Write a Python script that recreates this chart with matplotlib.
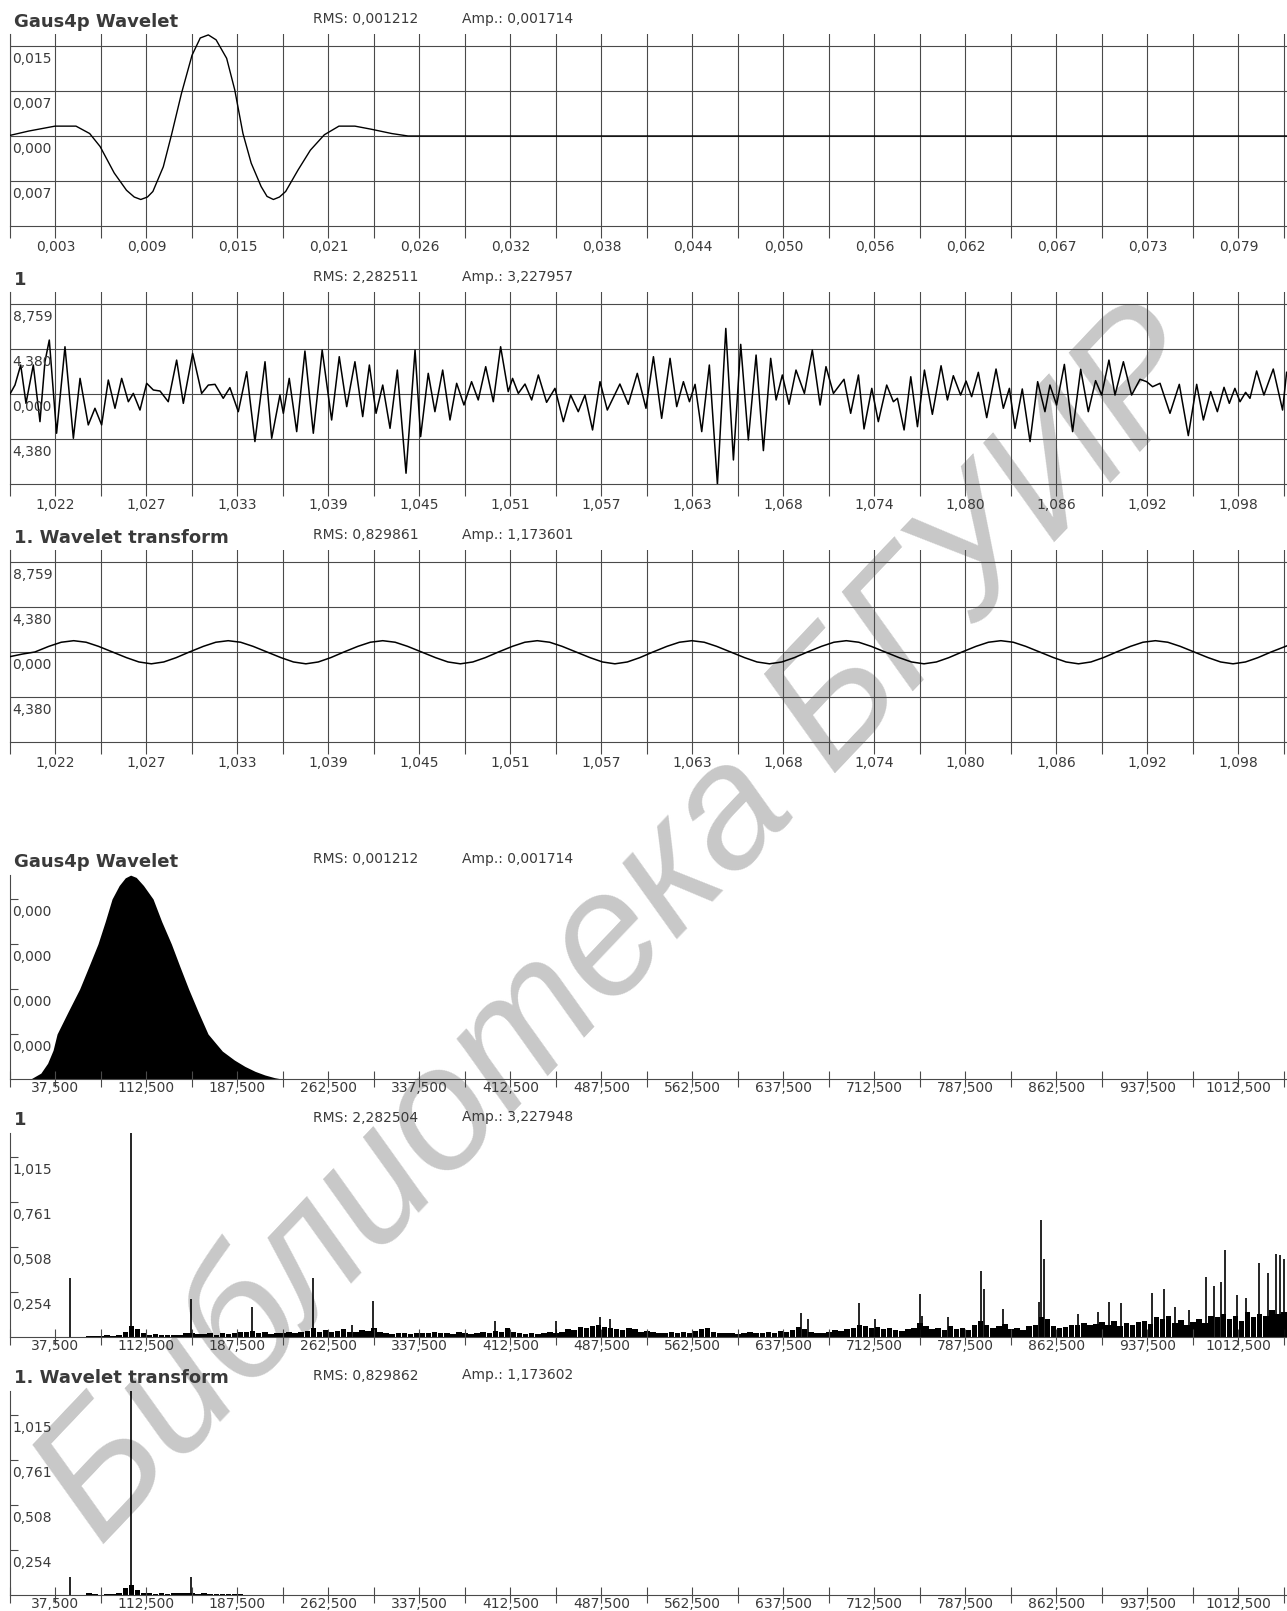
import numpy as np
import matplotlib
matplotlib.use('Agg')
import matplotlib.pyplot as plt

W, H = 1287, 1611
GRID = '#4a4a4a'
TXT = '#3a3a3a'
STEP_MS = 2.9297      # time per grid column, ms
STEP_HZ = 37.5        # frequency per grid column, Hz
NCOL = 28.066         # grid columns across the plot width

# ---------------- data ----------------
titles = ['Gaus4p Wavelet', '1', '1. Wavelet transform']
rms_time = ['RMS: 0,001212', 'RMS: 2,282511', 'RMS: 0,829861']
amp_time = ['Amp.: 0,001714', 'Amp.: 3,227957', 'Amp.: 1,173601']
rms_spec = ['RMS: 0,001212', 'RMS: 2,282504', 'RMS: 0,829862']
amp_spec = ['Amp.: 0,001714', 'Amp.: 3,227948', 'Amp.: 1,173602']

wavelet_xlabels = ['0,003', '0,009', '0,015', '0,021', '0,026', '0,032', '0,038',
                   '0,044', '0,050', '0,056', '0,062', '0,067', '0,073', '0,079']
signal_xlabels = ['1,022', '1,027', '1,033', '1,039', '1,045', '1,051', '1,057',
                  '1,063', '1,068', '1,074', '1,080', '1,086', '1,092', '1,098']
freq_xlabels = ['37,500', '112,500', '187,500', '262,500', '337,500', '412,500', '487,500',
                '562,500', '637,500', '712,500', '787,500', '862,500', '937,500', '1012,500']

wavelet_ylabels = ['0,015', '0,007', '0,000', '0,007']
signal_ylabels = ['8,759', '4,380', '0,000', '4,380']
wspec_ylabels = ['0,000', '0,000', '0,000', '0,000']
spec_ylabels = ['0,254', '0,508', '0,761', '1,015']

wavelet_cell = 0.0073
signal_cell = 4.3795
wspec_cell = 0.0001
spec_cell = 0.2538

# Gaus4p wavelet, time in ms
wavelet_points = [
    (0.0, 0.0001), (1.2, 0.0008), (2.9, 0.0016), (4.25, 0.0016), (5.13, 0.0004),
    (5.80, -0.0017), (6.71, -0.0060), (7.50, -0.0088), (8.0, -0.0099), (8.42, -0.0103),
    (8.85, -0.0099), (9.20, -0.0090), (9.87, -0.0050), (10.40, 0.0002), (11.04, 0.0069),
    (11.72, 0.0131), (12.25, 0.0159), (12.77, 0.0164), (13.27, 0.0156), (13.95, 0.0126),
    (14.47, 0.0075), (15.00, 0.0004), (15.53, -0.0044), (16.17, -0.0082), (16.55, -0.0098),
    (16.96, -0.0103), (17.35, -0.0099), (17.75, -0.0090), (18.55, -0.0055), (19.34, -0.0023),
    (20.24, 0.0002), (21.18, 0.0016), (22.21, 0.0016), (23.26, 0.0011), (24.58, 0.0004),
    (25.63, 0.0), (82.22, 0.0),
]

# signal "1", time in ms from window start
signal_points = [
    (0.0, 0.0), (0.32, 0.87), (0.69, 2.82), (1.03, -0.91), (1.50, 2.82), (1.93, -2.69),
    (2.25, 3.14), (2.53, 5.25), (3.00, -3.82), (3.54, 4.60), (4.08, -4.31), (4.51, 1.52),
    (5.04, -3.01), (5.47, -1.39), (5.90, -3.01), (6.33, 1.36), (6.76, -1.39), (7.19, 1.52),
    (7.62, -0.75), (7.94, 0.06), (8.37, -1.56), (8.80, 1.04), (9.23, 0.39), (9.66, 0.29),
    (10.19, -0.75), (10.73, 3.30), (11.16, -0.91), (11.76, 3.95), (12.34, 0.06), (12.77, 0.87),
    (13.20, 0.94), (13.73, -0.42), (14.16, 0.62), (14.70, -1.72), (15.24, 2.17), (15.77, -4.63),
    (16.42, 3.14), (16.85, -4.31), (17.38, -0.10), (17.60, -1.88), (17.98, 1.52), (18.46, -3.66),
    (18.99, 4.18), (19.53, -3.82), (20.10, 4.28), (20.71, -2.53), (21.20, 3.63), (21.68, -1.23),
    (22.21, 3.14), (22.71, -2.20), (23.14, 2.82), (23.57, -1.88), (24.00, 0.87), (24.47, -3.34),
    (24.94, 2.33), (25.50, -7.71), (26.08, 4.28), (26.44, -4.15), (26.93, 2.01), (27.36, -1.72),
    (27.86, 2.33), (28.33, -2.53), (28.76, 1.04), (29.23, -1.07), (29.72, 1.20), (30.15, -0.58),
    (30.63, 2.66), (31.12, -0.75), (31.59, 4.60), (32.08, 0.23), (32.36, 1.52), (32.73, 0.06),
    (33.16, 0.97), (33.59, -0.58), (34.02, 1.85), (34.55, -0.81), (35.09, 0.55), (35.63, -2.69),
    (36.10, -0.10), (36.59, -1.72), (37.02, -0.10), (37.51, -3.50), (37.99, 1.20), (38.46, -1.56),
    (39.27, 0.97), (39.81, -1.00), (40.39, 2.01), (40.95, -1.39), (41.43, 3.63), (41.96, -2.37),
    (42.50, 3.47), (42.93, -1.23), (43.36, 1.20), (43.75, -0.75), (44.11, 0.94), (44.54, -3.66),
    (45.03, 2.82), (45.55, -8.78), (46.09, 6.38), (46.58, -6.42), (47.05, 4.83), (47.54, -4.47),
    (48.04, 3.79), (48.51, -5.51), (48.98, 3.47), (49.33, -0.58), (49.73, 1.85), (50.16, -1.00),
    (50.61, 2.33), (51.15, 0.06), (51.66, 4.28), (52.16, -1.07), (52.54, 2.66), (53.02, 0.06),
    (53.70, 1.43), (54.13, -1.88), (54.63, 1.85), (54.99, -3.40), (55.49, 0.55), (55.91, -2.69),
    (56.45, 0.87), (56.88, -0.75), (57.14, -0.42), (57.57, -3.50), (58.00, 1.68), (58.43, -3.18),
    (58.88, 2.33), (59.39, -1.98), (59.95, 2.75), (60.36, -0.58), (60.74, 1.78), (61.21, -0.10),
    (61.56, 1.26), (61.92, -0.26), (62.35, 2.11), (62.89, -2.30), (63.49, 2.43), (63.96, -1.39),
    (64.35, 0.55), (64.71, -3.34), (65.18, 0.49), (65.68, -4.63), (66.17, 1.20), (66.64, -1.72),
    (66.96, 0.87), (67.39, -1.07), (67.89, 2.88), (68.42, -3.66), (68.94, 2.40), (69.43, -1.72),
    (69.90, 1.30), (70.29, -0.10), (70.76, 3.30), (71.15, -0.10), (71.69, 3.14), (72.22, -0.10),
    (72.76, 1.43), (73.19, 1.20), (73.57, 0.71), (74.05, 1.04), (74.69, -1.88), (75.29, 0.94),
    (75.87, -4.05), (76.41, 0.94), (76.84, -2.53), (77.31, 0.23), (77.74, -1.72), (78.17, 0.65),
    (78.51, -0.91), (78.87, 0.55), (79.20, -0.75), (79.56, 0.16), (79.84, -0.42), (80.27, 2.24),
    (80.74, -0.10), (81.34, 2.43), (81.94, -1.56), (82.20, 2.11),
]

# 1. Wavelet transform (time), ms
transform_points = [
    (0.0, -0.45), (0.8, -0.2), (1.6, 0.0), (2.5, 0.55), (3.3, 0.95), (4.1, 1.1), (4.9, 0.95),
    (5.7, 0.55), (6.6, 0.0), (7.5, -0.55), (8.3, -0.97), (9.1, -1.15), (9.9, -0.97),
    (10.7, -0.55), (11.55, 0.0),
    (12.45, 0.55), (13.25, 0.95), (14.05, 1.1), (14.85, 0.95), (15.65, 0.55), (16.55, 0.0),
    (17.45, -0.55), (18.25, -0.97), (19.05, -1.15), (19.85, -0.97), (20.65, -0.55), (21.5, 0.0),
    (22.4, 0.55), (23.2, 0.95), (24.0, 1.1), (24.8, 0.95), (25.6, 0.55), (26.5, 0.0),
    (27.4, -0.55), (28.2, -0.97), (29.0, -1.15), (29.8, -0.97), (30.6, -0.55), (31.45, 0.0),
    (32.35, 0.55), (33.15, 0.95), (33.95, 1.1), (34.75, 0.95), (35.55, 0.55), (36.45, 0.0),
    (37.35, -0.55), (38.15, -0.97), (38.95, -1.15), (39.75, -0.97), (40.55, -0.55), (41.4, 0.0),
    (42.3, 0.55), (43.1, 0.95), (43.9, 1.1), (44.7, 0.95), (45.5, 0.55), (46.4, 0.0),
    (47.3, -0.55), (48.1, -0.97), (48.9, -1.15), (49.7, -0.97), (50.5, -0.55), (51.35, 0.0),
    (52.25, 0.55), (53.05, 0.95), (53.85, 1.1), (54.65, 0.95), (55.45, 0.55), (56.35, 0.0),
    (57.25, -0.55), (58.05, -0.97), (58.85, -1.15), (59.65, -0.97), (60.45, -0.55), (61.3, 0.0),
    (62.2, 0.55), (63.0, 0.95), (63.8, 1.1), (64.6, 0.95), (65.4, 0.55), (66.3, 0.0),
    (67.2, -0.55), (68.0, -0.97), (68.8, -1.15), (69.6, -0.97), (70.4, -0.55), (71.25, 0.0),
    (72.15, 0.55), (72.95, 0.95), (73.75, 1.1), (74.55, 0.95), (75.35, 0.55), (76.25, 0.0),
    (77.15, -0.55), (77.95, -0.97), (78.75, -1.15), (79.55, -0.97), (80.35, -0.55), (81.2, 0.0),
    (82.22, 0.6),
]

# wavelet spectrum (Hz, amplitude in 1e-4)
wavelet_spec_points = [
    (17, 0.0), (25.4, 0.13), (31, 0.35), (35.5, 0.64), (38.8, 1.0), (48, 1.5), (57.4, 2.0),
    (65, 2.5), (72.5, 3.0), (78.5, 3.5), (84.1, 4.0), (90, 4.3), (95, 4.47), (99.4, 4.53),
    (104, 4.48), (110, 4.3), (117.9, 4.0), (125, 3.5), (133, 3.0), (140, 2.5), (147.2, 2.0),
    (155, 1.5), (163.2, 1.0), (170, 0.78), (175, 0.62), (185, 0.42), (193.6, 0.28),
    (202, 0.17), (210, 0.09), (218, 0.03), (224, 0.0),
]

# spectrum of signal "1": noise floor every 5 Hz from 55 Hz, plus narrow peaks
noise_start, noise_step = 55, 5
noise_amp = [
    0, 0, 0.008, 0.006, 0.004, 0.009, 0.006, 0.012, 0.03, 0.06,
    0.045, 0.02, 0.012, 0.015, 0.012, 0.01, 0.014, 0.012, 0.02, 0.025,
    0.018, 0.015, 0.022, 0.012, 0.02, 0.018, 0.025, 0.03, 0.028, 0.035,
    0.02, 0.03, 0.015, 0.025, 0.022, 0.03, 0.02, 0.028, 0.035, 0.05,
    0.03, 0.04, 0.03, 0.035, 0.045, 0.03, 0.028, 0.04, 0.035, 0.05,
    0.03, 0.022, 0.018, 0.025, 0.02, 0.015, 0.02, 0.025, 0.022, 0.03,
    0.02, 0.025, 0.018, 0.03, 0.02, 0.015, 0.025, 0.03, 0.022, 0.035,
    0.028, 0.05, 0.03, 0.02, 0.018, 0.025, 0.015, 0.02, 0.03, 0.025,
    0.03, 0.045, 0.04, 0.055, 0.05, 0.06, 0.07, 0.055, 0.05, 0.045,
    0.04, 0.05, 0.045, 0.03, 0.035, 0.028, 0.02, 0.025, 0.03, 0.022,
    0.03, 0.025, 0.035, 0.045, 0.05, 0.03, 0.02, 0.025, 0.02, 0.018,
    0.022, 0.03, 0.025, 0.02, 0.03, 0.025, 0.035, 0.03, 0.04, 0.055,
    0.045, 0.03, 0.025, 0.02, 0.03, 0.04, 0.035, 0.045, 0.05, 0.07,
    0.06, 0.05, 0.055, 0.045, 0.05, 0.04, 0.035, 0.045, 0.05, 0.08,
    0.06, 0.045, 0.05, 0.04, 0.06, 0.045, 0.05, 0.04, 0.07, 0.09,
    0.07, 0.05, 0.06, 0.075, 0.045, 0.05, 0.04, 0.06, 0.07, 0.11,
    0.1, 0.06, 0.05, 0.055, 0.07, 0.065, 0.08, 0.07, 0.075, 0.085,
    0.07, 0.09, 0.06, 0.08, 0.07, 0.085, 0.09, 0.075, 0.11, 0.1,
    0.12, 0.08, 0.095, 0.07, 0.085, 0.1, 0.08, 0.12, 0.11, 0.13,
    0.1, 0.12, 0.09, 0.14, 0.11, 0.13, 0.12, 0.15, 0.13, 0.14,
]
signal_peaks = [
    (49.5, 0.33), (99.5, 1.17), (149.5, 0.214), (199.5, 0.17), (249.5, 0.33), (281.8, 0.07),
    (299.5, 0.204), (399.4, 0.09), (449.7, 0.09), (486, 0.11), (494.8, 0.1), (652, 0.135),
    (658, 0.1), (700, 0.19), (713, 0.1), (750, 0.24), (752, 0.12), (773, 0.11), (800, 0.37),
    (803, 0.27), (818, 0.16), (848, 0.2), (850, 0.66), (852, 0.44), (880, 0.13), (897, 0.14),
    (906, 0.2), (916, 0.19), (941, 0.25), (951, 0.27), (960, 0.17), (972, 0.15), (986, 0.34),
    (992, 0.29), (998, 0.31), (1001, 0.49), (1011, 0.235), (1019, 0.22), (1029, 0.42),
    (1037, 0.36), (1043, 0.47), (1047, 0.46), (1050, 0.44),
]

# spectrum of the wavelet transform
wt_noise_amp = [
    0, 0, 0.012, 0.004, 0, 0.006, 0.008, 0.012, 0.04, 0.055,
    0.03, 0.014, 0.01, 0.008, 0.01, 0.008, 0.01, 0.012, 0.01, 0.014,
    0.008, 0.01, 0.006, 0.008, 0.005, 0.004, 0.006, 0.003, 0, 0,
]
wt_peaks = [(49.5, 0.1), (99.5, 1.17), (149.5, 0.1)]

watermark = 'Библиотека БГУИР'

# ---------------- drawing ----------------
fig = plt.figure(figsize=(W / 100, H / 100), dpi=100)
fig.patch.set_facecolor('white')


def rect(left, top, right, bottom):
    return [left / W, 1 - bottom / H, (right - left) / W, (bottom - top) / H]


def header(y, title, rms, amp):
    fig.text(14 / W, 1 - y / H, title, fontsize=13, fontweight='bold', color=TXT, va='center')
    fig.text(313 / W, 1 - (y - 2.5) / H, rms, fontsize=10, color=TXT, va='center')
    fig.text(462 / W, 1 - (y - 2.5) / H, amp, fontsize=10, color=TXT, va='center')


def style_common(ax, xlabels, step):
    ax.set_facecolor('none')
    ax.set_xlim(0, NCOL * step)
    ax.set_xticks(np.arange(29) * step)
    ax.set_xticklabels(['' if k % 2 == 0 else xlabels[k // 2] for k in range(29)])
    for s in ['top', 'right']:
        ax.spines[s].set_visible(False)
    for s in ['left', 'bottom']:
        ax.spines[s].set_color(GRID)
        ax.spines[s].set_linewidth(0.8)


def ylabels_text(ax, values, labels):
    for v, lab in zip(values, labels):
        ax.text(2.5 / 1277, v, lab, transform=ax.get_yaxis_transform(), fontsize=10,
                color=TXT, ha='left', va='center')


def time_panel(i, points, cell, ylabels, xlabels, lw):
    off = 258 * i
    ax = fig.add_axes(rect(10, 34 + off, W, 226 + off))
    style_common(ax, xlabels, STEP_MS)
    ax.set_ylim(-2 * cell, 102 / 45 * cell)
    ax.set_yticks(np.arange(-1, 3) * cell)
    ax.grid(True, color=GRID, lw=0.8)
    ax.tick_params(axis='x', direction='out', length=8.6, width=0.8, color=GRID,
                   labelsize=10, labelcolor=TXT, pad=1.5)
    ax.tick_params(axis='y', length=0, labelleft=False)
    xs, ys = np.array(points).T
    ax.plot(xs, ys, color='black', lw=lw, zorder=3)
    ylabels_text(ax, [(2 - j) * cell - 13 / 45 * cell for j in range(4)], ylabels)
    header(21.7 + off, titles[i], rms_time[i], amp_time[i])
    return ax


def spec_panel(j, cell, ylabels):
    off = 258 * j
    ax = fig.add_axes(rect(10, 875 + off, W, 1079 + off))
    style_common(ax, freq_xlabels, STEP_HZ)
    ax.set_ylim(0, 204 / 45 * cell)
    ax.set_yticks(np.arange(1, 5) * cell)
    ax.tick_params(axis='x', direction='inout', length=11.5, width=0.8, color=GRID,
                   labelsize=10, labelcolor=TXT, pad=-4.3)
    ax.tick_params(axis='y', direction='in', length=5.8, width=0.8, color=GRID,
                   labelleft=False)
    ylabels_text(ax, [(k + 1) * cell - 13 / 45 * cell for k in range(4)], ylabels)
    header(862 + off, titles[j], rms_spec[j], amp_spec[j])
    return ax


time_panel(0, wavelet_points, wavelet_cell, wavelet_ylabels, wavelet_xlabels, 1.0)
time_panel(1, signal_points, signal_cell, signal_ylabels, signal_xlabels, 1.1)
time_panel(2, transform_points, signal_cell, signal_ylabels, signal_xlabels, 1.1)

ax4 = spec_panel(0, wspec_cell, wspec_ylabels)
f4, a4 = np.array(wavelet_spec_points).T
ax4.fill_between(f4, a4 * 1e-4, 0, color='black', lw=0)

ax5 = spec_panel(1, spec_cell, spec_ylabels)
nf = noise_start + noise_step * np.arange(len(noise_amp))
ax5.bar(nf, noise_amp, width=4.5, color='black', lw=0)
pf, pa = np.array(signal_peaks).T
ax5.vlines(pf, 0, pa, color='black', lw=1.2)

ax6 = spec_panel(2, spec_cell, spec_ylabels)
wf = noise_start + noise_step * np.arange(len(wt_noise_amp))
ax6.bar(wf, wt_noise_amp, width=4.5, color='black', lw=0)
qf, qa = np.array(wt_peaks).T
ax6.vlines(qf, 0, qa, color='black', lw=1.2)

fig.text(625 / W, 1 - 928 / H, watermark, fontsize=125, color='#c8c8c8', style='italic',
         family='Liberation Sans', rotation=46.5, ha='center', va='center', zorder=-1)

fig.savefig('out.png', dpi=100)
